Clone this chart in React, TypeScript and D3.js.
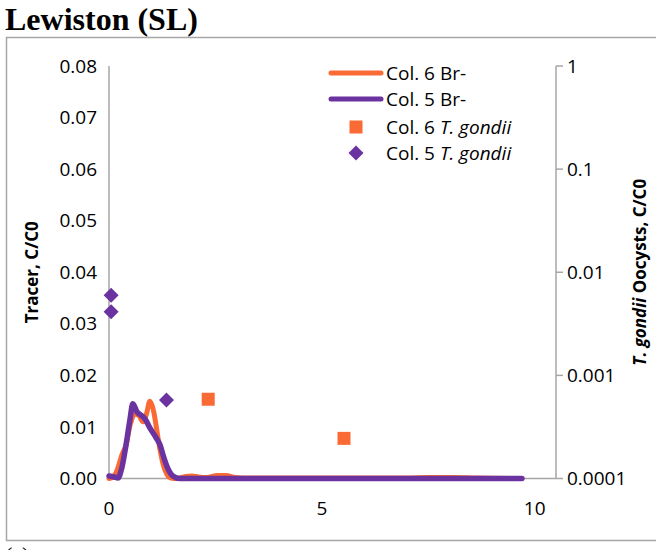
import React from "react";
import * as d3 from "d3";

// ---- data ----
const col6BrX = [0, 0.1, 0.2, 0.3, 0.4, 0.5, 0.6, 0.7, 0.8, 0.88, 0.96, 1.05, 1.12, 1.2, 1.28, 1.36, 1.45, 1.6, 1.8, 1.95, 2.1, 2.3, 2.55, 2.75, 2.95, 3.3, 4, 5, 6, 7, 7.5, 7.8, 8.1, 8.6, 9.7];
const col6BrY = [0, 0.0003, 0.0018, 0.0045, 0.0065, 0.0105, 0.0125, 0.0122, 0.011, 0.0125, 0.015, 0.013, 0.0095, 0.0055, 0.0025, 0.0008, 0.0001, 0, 0.0004, 0.0005, 0.0003, 0.0002, 0.0006, 0.0006, 0.0002, 0.0001, 0.0001, 0.0001, 0.0001, 0.0001, 0.0002, 0.0002, 0.0002, 0.0001, 0];

const col5BrX = [0, 0.12, 0.21, 0.3, 0.4, 0.49, 0.56, 0.66, 0.75, 0.85, 0.96, 1.1, 1.2, 1.29, 1.39, 1.5, 1.67, 2, 3, 4, 5, 6, 7, 8, 9, 9.7];
const col5BrY = [0.0005, 0.0003, 0.0001, 0.002, 0.0065, 0.0113, 0.0145, 0.0129, 0.0123, 0.0115, 0.0098, 0.008, 0.0065, 0.004, 0.0018, 0.0005, 0, 0, 0, 0, 0, 0, 0, 0, 0, 0];

const col6TgX = [2.33, 5.52];
const col6TgY = [0.000587, 0.000245];

const col5TgX = [0.05, 0.05, 1.35];
const col5TgY = [0.006, 0.00415, 0.000577];

const leftTicks = [0, 0.01, 0.02, 0.03, 0.04, 0.05, 0.06, 0.07, 0.08];
const rightTicks = [0.0001, 0.001, 0.01, 0.1, 1];
const rightTickLabels = ["0.0001", "0.001", "0.01", "0.1", "1"];
const xTicks = [0, 5, 10];

const ORANGE = "#FA6A35";
const PURPLE = "#6A339F";
const GRAY = "#A6A6A6";
const FONT = "'Open Sans', sans-serif";

export default function App() {
  const x = d3.scaleLinear().domain([0, 10.5]).range([109, 556]);
  const yL = d3.scaleLinear().domain([0, 0.08]).range([478.5, 66]);
  const yR = d3.scaleLog().domain([0.0001, 1]).range([478.5, 66]);

  const line = d3
    .line<[number, number]>()
    .x((d) => x(d[0]))
    .y((d) => yL(d[1]))
    .curve(d3.curveMonotoneX);

  const orangePts: [number, number][] = col6BrX.map((v, i) => [v, col6BrY[i]]);
  const purplePts: [number, number][] = col5BrX.map((v, i) => [v, col5BrY[i]]);

  const diamond = (cx: number, cy: number, r: number) =>
    `M${cx},${cy - r}L${cx + r},${cy}L${cx},${cy + r}L${cx - r},${cy}Z`;

  return (
    <svg
      width={656}
      height={550}
      style={{ position: "absolute", left: 0, top: 0, background: "#fff" }}
    >
      <rect x={0} y={0} width={656} height={550} fill="#fff" />
      <text x={5} y={30} fontFamily="'Liberation Serif', serif" fontWeight="bold" fontSize={32} fill="#000">
        Lewiston (SL)
      </text>
      <rect x={6.5} y={37.5} width={670} height={503} fill="none" stroke={GRAY} strokeWidth={1.5} />
      <text x={5} y={562} fontFamily="'Liberation Serif', serif" fontSize={22} fill="#000">
        (c)
      </text>

      {/* axes */}
      <line x1={109} x2={109} y1={66} y2={478.5} stroke={GRAY} strokeWidth={1.5} />
      <line x1={109} x2={556} y1={478.5} y2={478.5} stroke={GRAY} strokeWidth={1.5} />
      <line x1={556} x2={556} y1={66} y2={478.5} stroke={GRAY} strokeWidth={1.5} />
      {rightTicks.map((t, i) => (
        <g key={i}>
          <line x1={556} x2={563} y1={yR(t)} y2={yR(t)} stroke={GRAY} strokeWidth={1.5} />
          <text x={567} y={yR(t)} dy="0.35em" fontFamily={FONT} fontSize={19} fill="#000">
            {rightTickLabels[i]}
          </text>
        </g>
      ))}
      {leftTicks.map((t, i) => (
        <text key={i} x={97} y={yL(t)} dy="0.35em" textAnchor="end" fontFamily={FONT} fontSize={19} fill="#000">
          {d3.format(".2f")(t)}
        </text>
      ))}
      {xTicks.map((t, i) => (
        <text key={i} x={x(t)} y={508} dy="0.35em" textAnchor="middle" fontFamily={FONT} fontSize={19} fill="#000">
          {t}
        </text>
      ))}

      {/* axis titles */}
      <text
        transform={`translate(38,${(66 + 478.5) / 2}) rotate(-90)`}
        textAnchor="middle"
        fontFamily={FONT}
        fontWeight="bold"
        fontSize={17}
        fill="#000"
      >
        Tracer, C/C0
      </text>
      <text
        transform={`translate(646,${(66 + 478.5) / 2}) rotate(-90)`}
        textAnchor="middle"
        fontFamily={FONT}
        fontWeight="bold"
        fontSize={17}
        fill="#000"
      >
        <tspan fontStyle="italic">T. gondii</tspan> Oocysts, C/C0
      </text>

      {/* lines */}
      <path d={line(orangePts) || ""} fill="none" stroke={ORANGE} strokeWidth={5} strokeLinejoin="round" strokeLinecap="round" />
      <path d={line(purplePts) || ""} fill="none" stroke={PURPLE} strokeWidth={5.5} strokeLinejoin="round" strokeLinecap="round" />

      {/* markers */}
      {col6TgX.map((v, i) => (
        <rect key={i} x={x(v) - 6.5} y={yR(col6TgY[i]) - 6.5} width={13} height={13} fill={ORANGE} />
      ))}
      {col5TgX.map((v, i) => (
        <path key={i} d={diamond(x(v), yR(col5TgY[i]), 7.5)} fill={PURPLE} />
      ))}

      {/* legend */}
      <g fontFamily={FONT} fontSize={19} fill="#000">
        <line x1={331} x2={381} y1={73} y2={73} stroke={ORANGE} strokeWidth={5} strokeLinecap="round" />
        <text x={386} y={73} dy="0.35em">Col. 6 Br-</text>
        <line x1={331} x2={381} y1={99} y2={99} stroke={PURPLE} strokeWidth={5} strokeLinecap="round" />
        <text x={386} y={99} dy="0.35em">Col. 5 Br-</text>
        <rect x={356 - 6.5} y={127 - 6.5} width={13} height={13} fill={ORANGE} />
        <text x={386} y={127} dy="0.35em">
          Col. 6 <tspan fontStyle="italic">T. gondii</tspan>
        </text>
        <path d={diamond(356, 153, 7.5)} fill={PURPLE} />
        <text x={386} y={153} dy="0.35em">
          Col. 5 <tspan fontStyle="italic">T. gondii</tspan>
        </text>
      </g>
    </svg>
  );
}
